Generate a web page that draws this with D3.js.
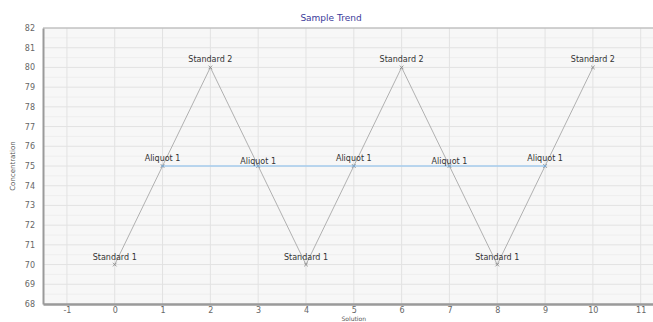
<!DOCTYPE html>
<html><head><meta charset="utf-8">
<script src="https://cdn.jsdelivr.net/npm/d3@7"></script>
<style>body{margin:0;background:#fff}svg{display:block}text{font-family:"DejaVu Sans",Verdana,sans-serif}</style>
</head><body><svg id="c" width="653" height="322"></svg>
<script>
const solutions = [0,1,2,3,4,5,6,7,8,9,10];
const concentrations = [70,75,80,75,70,75,80,75,70,75,80];
const pointLabels = ["Standard 1","Aliquot 1","Standard 2","Aliquot 1","Standard 1","Aliquot 1","Standard 2","Aliquot 1","Standard 1","Aliquot 1","Standard 2"];
const aliquotX = [1,3,5,7,9];
const aliquotY = [75,75,75,75,75];
const xTicks = [-1,0,1,2,3,4,5,6,7,8,9,10,11];
const yTicks = [68,69,70,71,72,73,74,75,76,77,78,79,80,81,82];
const title = "Sample Trend", xTitle = "Solution", yTitle = "Concentration";

const svg = d3.select("#c");
const L = 43, T = 28, R = 664.6, B = 304;
const x = d3.scaleLinear().domain([-1.5, 11.5]).range([L, R]);
const y = d3.scaleLinear().domain([68, 82]).range([B, T]);

svg.append("rect").attr("x", L).attr("y", T).attr("width", R - L).attr("height", B - T).attr("fill", "#f7f7f7");
const g = svg.append("g");
g.selectAll(".ym").data(d3.range(68.5, 82, 1)).join("line")
  .attr("x1", L).attr("x2", R).attr("y1", d => y(d)).attr("y2", d => y(d))
  .attr("stroke", "#eeeeee").attr("stroke-width", 1);
g.selectAll(".yg").data(yTicks).join("line")
  .attr("x1", L).attr("x2", R).attr("y1", d => y(d)).attr("y2", d => y(d))
  .attr("stroke", "#e2e2e2").attr("stroke-width", 1);
g.selectAll(".xg").data(xTicks).join("line")
  .attr("x1", d => x(d)).attr("x2", d => x(d)).attr("y1", T).attr("y2", B)
  .attr("stroke", "#e2e2e2").attr("stroke-width", 1);
svg.append("line").attr("x1", L).attr("x2", R).attr("y1", T).attr("y2", T).attr("stroke", "#b0b0b0");

const yAxis = svg.append("g").attr("transform", `translate(${L},0)`)
  .call(d3.axisLeft(y).tickValues(yTicks).tickSize(0).tickPadding(8).tickFormat(d => String(d)));
const xAxis = svg.append("g").attr("transform", `translate(0,${B})`)
  .call(d3.axisBottom(x).tickValues(xTicks).tickSize(0).tickPadding(3).tickFormat(d => String(d)));
[xAxis, yAxis].forEach(a => {
  a.selectAll("text").attr("fill", "#666").style("font-size", "8px").style("font-family", "'DejaVu Sans',sans-serif");
  a.select(".domain").attr("stroke", "#9a9a9a");
});
yAxis.select(".domain").attr("stroke-width", 2);
xAxis.select(".domain").attr("stroke-width", 2.5);

svg.append("path").datum(aliquotX.map((d, i) => [d, aliquotY[i]]))
  .attr("d", d3.line().x(d => x(d[0])).y(d => y(d[1])))
  .attr("fill", "none").attr("stroke", "#a6cdee").attr("stroke-width", 1.4);

const pts = solutions.map((d, i) => ({x: d, y: concentrations[i], l: pointLabels[i], i}));
svg.append("path").datum(pts)
  .attr("d", d3.line().x(d => x(d.x)).y(d => y(d.y)))
  .attr("fill", "none").attr("stroke", "#a8a8a8").attr("stroke-width", 0.9);

svg.selectAll(".mk").data(pts).join("path")
  .attr("d", d => { const cx = x(d.x), cy = y(d.y), s = 1.8; return `M${cx-s},${cy-s}L${cx+s},${cy+s}M${cx-s},${cy+s}L${cx+s},${cy-s}`; })
  .attr("stroke", "#8a8a8a").attr("stroke-width", 0.9);
svg.selectAll(".bm").data(aliquotX.map((d, i) => [d, aliquotY[i]])).join("circle")
  .attr("cx", d => x(d[0])).attr("cy", d => y(d[1])).attr("r", 1.3).attr("fill", "#7fa9cf");

svg.selectAll(".pl").data(pts).join("text")
  .attr("x", d => x(d.x)).attr("y", d => y(d.y) - (d.i % 4 === 3 ? 2 : 5))
  .attr("text-anchor", "middle").attr("fill", "#333").style("font-size", "8px")
  .text(d => d.l);

svg.append("text").attr("x", 331).attr("y", 21).attr("text-anchor", "middle")
  .attr("fill", "#3a3a9a").style("font-size", "9px").text(title);
svg.append("text").attr("x", (L + R) / 2).attr("y", 321).attr("text-anchor", "middle")
  .attr("fill", "#555").style("font-size", "6px").text(xTitle);
svg.append("text").attr("transform", `translate(15,${(T + B) / 2}) rotate(-90)`).attr("text-anchor", "middle")
  .attr("fill", "#555").style("font-size", "7px").text(yTitle);
</script></body></html>
